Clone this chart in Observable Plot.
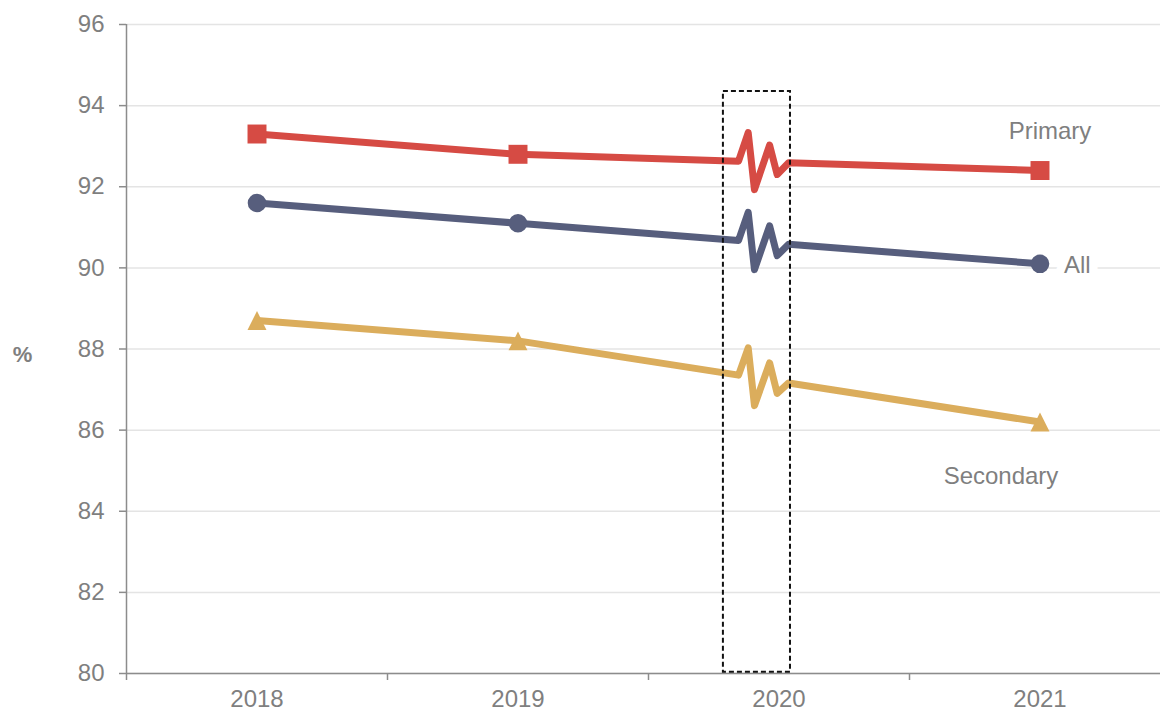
<!DOCTYPE html>
<html>
<head>
<meta charset="utf-8">
<script src="https://cdn.jsdelivr.net/npm/d3@7"></script>
<script src="https://cdn.jsdelivr.net/npm/@observablehq/plot@0.6"></script>
<style>
  html, body { margin: 0; padding: 0; background: #fff; overflow: hidden; }
  #chart svg { display: block; }
</style>
</head>
<body>
<div id="chart"></div>
<script>
// Attendance rate (%) by school phase; no figure is published for 2020.
const years = [2018, 2019, 2020, 2021];
const primary = [93.3, 92.8, null, 92.4];
const all = [91.6, 91.1, null, 90.1];
const secondary = [88.7, 88.2, null, 86.2];

const seriesNames = ["Primary", "All", "Secondary"];
const seriesValues = [primary, all, secondary];
const seriesColors = ["#d64b44", "#575e7d", "#dbad5c"];

const yTicks = [80, 82, 84, 86, 88, 90, 92, 94, 96];
const xBoundaries = [2017.5, 2018.5, 2019.5, 2020.5, 2021.5];

// Break glyph drawn where the missing year sits: offsets in years from 2020
// and in percentage points from the straight 2019–2021 segment.
const breakYear = 2020;
const breakDx = [-0.155, -0.118, -0.094, -0.036, -0.007, 0.037];
const breakDy = [0, 0.71, -0.69, 0.42, -0.30, 0];
const breakBox = {x1: 2019.787, x2: 2020.044, y1: 80.03, y2: 94.35};

const font = "'Liberation Sans', Arial, Helvetica, sans-serif";
const textGray = "#7f7f7f";
const axisGray = "#8c8c8c";
const fontSize = 24;

// Square and triangle share the same footprint (side = sqrt(size)),
// both centred on their bounding box.
const squareSym = {
  draw(ctx, size) {
    const s = Math.sqrt(size) / 2;
    ctx.moveTo(-s, -s); ctx.lineTo(s, -s); ctx.lineTo(s, s); ctx.lineTo(-s, s); ctx.closePath();
  }
};
const triangleSym = {
  draw(ctx, size) {
    const s = Math.sqrt(size) / 2;
    ctx.moveTo(0, -s); ctx.lineTo(s, s); ctx.lineTo(-s, s); ctx.closePath();
  }
};
const seriesSymbols = [squareSym, "circle", triangleSym];
const seriesR = [10.7, 9.3, 10.7];

// Rows for each line: observed years plus the break glyph vertices.
function lineRows(name, values) {
  const rows = [];
  const i19 = years.indexOf(2019), i21 = years.indexOf(2021);
  const v19 = values[i19], v21 = values[i21];
  years.forEach((yr, i) => {
    if (yr === breakYear) {
      breakDx.forEach((dx, k) => {
        const t = breakYear + dx;
        const base = v19 + (v21 - v19) * (t - 2019) / (2021 - 2019);
        rows.push({series: name, year: t, value: base + breakDy[k]});
      });
    } else if (values[i] != null) {
      rows.push({series: name, year: yr, value: values[i]});
    }
  });
  return rows;
}

const pointRows = seriesNames.map((name, s) =>
  years.map((yr, i) => ({series: name, year: yr, value: seriesValues[s][i]}))
       .filter(d => d.value != null));

const lastOf = s => pointRows[s][pointRows[s].length - 1];

const marks = [
  Plot.gridY(yTicks, {stroke: "#e4e4e4", strokeOpacity: 1, strokeWidth: 1.5}),
  Plot.ruleX([2017.5], {stroke: axisGray, strokeWidth: 1.5}),
  Plot.ruleY([80], {stroke: axisGray, strokeWidth: 1.5}),
  Plot.axisY({ticks: yTicks, tickSize: 7, tickPadding: 15, fontSize, color: textGray,
              stroke: axisGray, strokeWidth: 1.5, fontFamily: font, label: null}),
  Plot.axisX({ticks: xBoundaries, tickSize: 7, tickFormat: () => "", stroke: axisGray,
              strokeWidth: 1.5, label: null}),
  Plot.axisX({ticks: years, tickSize: 0, tickPadding: 16, tickFormat: d => String(d),
              fontSize, color: textGray, fontFamily: font, label: null}),
  Plot.text(["%"], {frameAnchor: "left", dx: -104, dy: 6, text: d => d, fontSize: 22,
                    fontWeight: "bold", fill: textGray, fontFamily: font, textAnchor: "middle"})
];

seriesNames.forEach((name, s) => {
  marks.push(Plot.line(lineRows(name, seriesValues[s]), {
    x: "year", y: "value", stroke: seriesColors[s], strokeWidth: 7,
    strokeLinejoin: "round", curve: "linear"
  }));
});
seriesNames.forEach((name, s) => {
  marks.push(Plot.dot(pointRows[s], {
    x: "year", y: "value", symbol: () => seriesSymbols[s], r: seriesR[s],
    fill: seriesColors[s], stroke: "none"
  }));
});

marks.push(Plot.rect([breakBox], {
  x1: "x1", x2: "x2", y1: "y1", y2: "y2", fill: "none", stroke: "#111",
  strokeWidth: 2, strokeDasharray: "5,3"
}));

// Series labels near the final point
marks.push(Plot.text([lastOf(0)], {x: "year", y: "value", text: () => "Primary",
  dx: 10, dy: -39, fontSize, fill: textGray, fontFamily: font, textAnchor: "middle"}));
marks.push(Plot.text([lastOf(1)], {x: "year", y: "value", text: () => "All",
  dx: 24, dy: 1, fontSize, fill: textGray, fontFamily: font, textAnchor: "start",
  stroke: "white", strokeWidth: 17}));
marks.push(Plot.text([lastOf(2)], {x: "year", y: "value", text: () => "Secondary",
  dx: -39, dy: 54, fontSize, fill: textGray, fontFamily: font, textAnchor: "middle"}));

const chart = Plot.plot({
  width: 1160,
  height: 711,
  marginLeft: 126,
  marginTop: 24,
  marginBottom: 38,
  marginRight: 0,
  style: {fontFamily: font, background: "#fff", overflow: "hidden"},
  x: {domain: [2017.5, 2021.5], range: [126, 1170]},
  y: {domain: [80, 96], range: [673, 24]},
  symbol: {type: "identity"},
  marks
});

document.getElementById("chart").appendChild(chart);
</script>
</body>
</html>
